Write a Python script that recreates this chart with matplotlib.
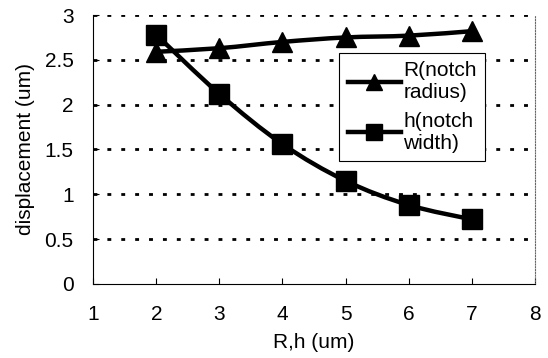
import matplotlib
matplotlib.use('Agg')
import matplotlib.pyplot as plt
import numpy as np
from matplotlib.path import Path
from matplotlib.patches import PathPatch
from matplotlib.lines import Line2D

x_vals = [2, 3, 4, 5, 6, 7]
r_notch = [2.59, 2.63, 2.70, 2.75, 2.77, 2.82]
h_notch = [2.78, 2.12, 1.56, 1.15, 0.88, 0.72]
x_ticks = [1, 2, 3, 4, 5, 6, 7, 8]
y_ticks = [0, 0.5, 1, 1.5, 2, 2.5, 3]
y_tick_labels = ['0', '0.5', '1', '1.5', '2', '2.5', '3']
series_labels = ['R(notch\nradius)', 'h(notch\nwidth)']

plt.rcParams['font.family'] = ['Liberation Sans', 'DejaVu Sans']


def smooth_path(xs, ys):
    """Smoothed line through the points (like Excel's smoothed line option)."""
    pts = np.column_stack([xs, ys]).astype(float)
    verts = [pts[0]]
    codes = [Path.MOVETO]
    n = len(pts)
    for i in range(n - 1):
        p0 = pts[i - 1] if i > 0 else pts[i]
        p1 = pts[i]
        p2 = pts[i + 1]
        p3 = pts[i + 2] if i + 2 < n else pts[i + 1]
        c1 = p1 + (p2 - p0) / 6.0
        c2 = p2 - (p3 - p1) / 6.0
        verts += [c1, c2, p2]
        codes += [Path.CURVE4] * 3
    return Path(verts, codes)


fig = plt.figure(figsize=(5.48, 3.58), dpi=100)
fig.patch.set_facecolor('white')
ax = fig.add_axes([0.170, 0.207, 0.806, 0.751])

# dotted horizontal gridlines
for y in y_ticks[1:]:
    ax.axhline(y, color='black', linestyle=(0, (1.4, 3.6)), linewidth=2.0, zorder=1)

for ys in (r_notch, h_notch):
    ax.add_patch(PathPatch(smooth_path(x_vals, ys), facecolor='none',
                           edgecolor='black', linewidth=3.2, zorder=2))

ax.plot(x_vals, r_notch, linestyle='none', marker='^', markersize=14.5,
        color='black', zorder=3)
ax.plot(x_vals, h_notch, linestyle='none', marker='s', markersize=14,
        color='black', zorder=3)

ax.set_xlim(1, 8)
ax.set_ylim(0, 3)
ax.set_xticks(x_ticks)
ax.set_yticks(y_ticks)
ax.set_yticklabels(y_tick_labels)
ax.tick_params(direction='in', length=4, width=0.8, labelsize=15)
ax.tick_params(axis='x', pad=15)
ax.tick_params(axis='y', pad=14)

ax.spines['top'].set_visible(False)
ax.spines['right'].set_linestyle((0, (1, 1.5)))
ax.spines['right'].set_color('#666666')
ax.spines['right'].set_linewidth(0.8)
ax.spines['left'].set_linewidth(0.8)
ax.spines['bottom'].set_linewidth(0.8)

ax.set_xlabel('R,h (um)', fontsize=15, labelpad=7)
ax.set_ylabel('displacement (um)', fontsize=15, labelpad=7)

handles = [
    Line2D([], [], color='black', linewidth=3.2, marker='^', markersize=12),
    Line2D([], [], color='black', linewidth=3.2, marker='s', markersize=11),
]
leg = ax.legend(handles, series_labels,
                loc='upper left', bbox_to_anchor=(0.557, 0.859),
                fontsize=15, frameon=True, fancybox=False, shadow=False,
                handlelength=2.55, handletextpad=0.12, borderpad=0.4,
                labelspacing=0.45, borderaxespad=0)
leg.get_frame().set_edgecolor('black')
leg.get_frame().set_linewidth(0.8)
leg.get_frame().set_alpha(1)
leg.set_zorder(5)

fig.savefig('out.png', dpi=100, facecolor='white')
